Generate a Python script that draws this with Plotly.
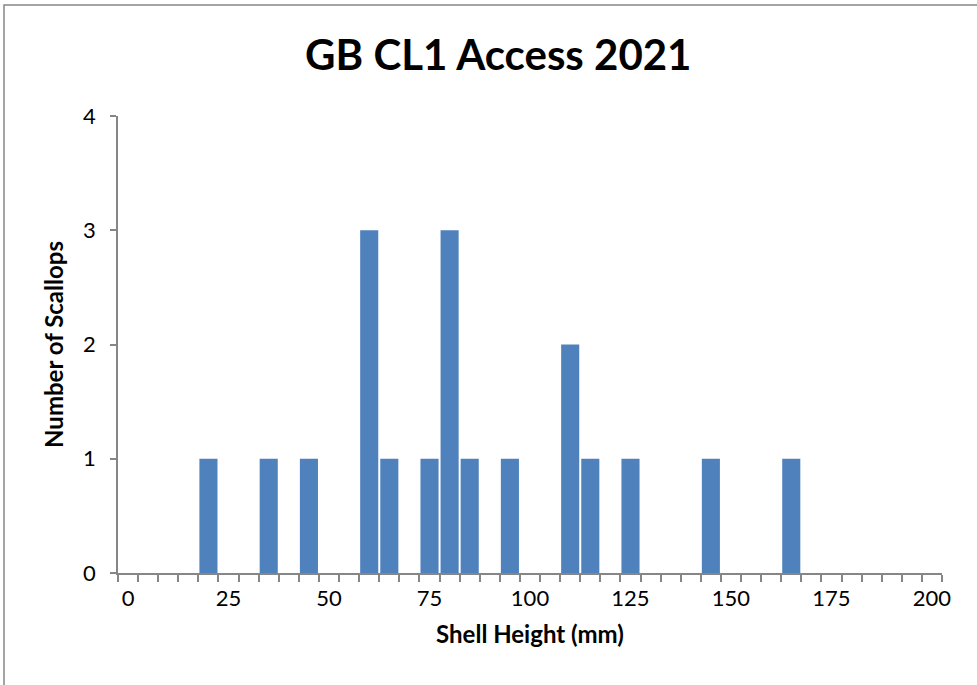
import plotly.graph_objects as go

shell_height = [20, 35, 45, 60, 65, 75, 80, 85, 95, 110, 115, 125, 145, 165]
counts = [1, 1, 1, 3, 1, 1, 3, 1, 1, 2, 1, 1, 1, 1]
x_tick_vals = [0, 25, 50, 75, 100, 125, 150, 175, 200]
y_tick_vals = [0, 1, 2, 3, 4]

FONT = "Lato, 'Open Sans', sans-serif"
AXIS_GRAY = "#868686"

fig = go.Figure(
    go.Bar(
        x=shell_height,
        y=counts,
        width=4.5,
        marker=dict(color="#4F81BD", line=dict(width=0)),
    )
)

fig.update_layout(
    width=977,
    height=685,
    margin=dict(l=118, r=35, t=116, b=112),
    paper_bgcolor="white",
    plot_bgcolor="white",
    showlegend=False,
    title=dict(
        text="<b>GB CL1 Access 2021</b>",
        x=0.51,
        xanchor="center",
        y=1 - 55 / 685,
        yanchor="middle",
        font=dict(family=FONT, size=42, color="black"),
    ),
    font=dict(family=FONT, color="black"),
)

fig.update_xaxes(
    range=[-2.5, 202.5],
    tickmode="array",
    tickvals=x_tick_vals,
    ticktext=[str(v) for v in x_tick_vals],
    ticks="",
    showgrid=False,
    zeroline=False,
    showline=True,
    linecolor=AXIS_GRAY,
    linewidth=1.5,
    tickfont=dict(family=FONT, size=22, color="black"),
    ticklabelstandoff=5,
    minor=dict(
        ticks="outside",
        ticklen=7,
        tickcolor=AXIS_GRAY,
        tickwidth=1.5,
        tickmode="linear",
        tick0=-2.5,
        dtick=5,
        showgrid=False,
    ),
    title=dict(
        text="<b>Shell Height (mm)</b>",
        font=dict(family=FONT, size=24, color="black"),
        standoff=16,
    ),
)

fig.update_yaxes(
    range=[0, 4],
    tickmode="array",
    tickvals=y_tick_vals,
    ticks="outside",
    ticklen=6,
    tickcolor=AXIS_GRAY,
    tickwidth=1.5,
    showgrid=False,
    zeroline=False,
    showline=True,
    linecolor=AXIS_GRAY,
    linewidth=1.5,
    tickfont=dict(family=FONT, size=22, color="black"),
    ticklabelstandoff=10,
    title=dict(
        text="<b>Number of Scallops</b>",
        font=dict(family=FONT, size=24, color="black"),
        standoff=13,
    ),
)

# outer chart border (visible on left and top edges)
left_x = (4 - 118) / 824
top_y = 1 + (116 - 5) / 457
fig.add_shape(type="rect", xref="paper", yref="paper",
              x0=left_x, x1=1.2, y0=-0.4, y1=top_y,
              line=dict(color=AXIS_GRAY, width=1.5),
              fillcolor="rgba(0,0,0,0)", layer="below")

fig.write_html(
    "out.html",
    config={"displayModeBar": False},
    post_script="document.body.style.margin='0px'; document.body.style.overflow='hidden';",
)
